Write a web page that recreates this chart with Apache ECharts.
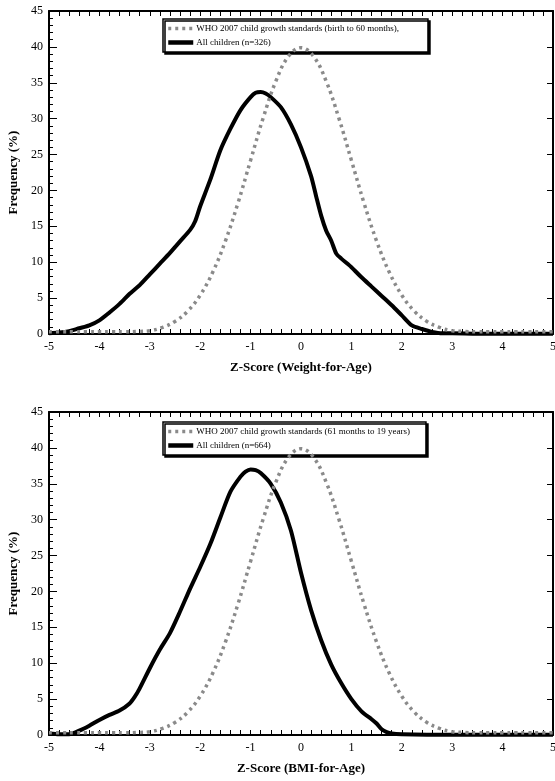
<!DOCTYPE html>
<html>
<head>
<meta charset="utf-8">
<script src="https://cdn.jsdelivr.net/npm/echarts@6/dist/echarts.min.js"></script>
<style>html,body{margin:0;padding:0;background:#fff}#c{width:555px;height:781px}</style>
</head>
<body>
<div id="c"></div>
<script>
// ---- data ----
const xTicks = [-5, -4, -3, -2, -1, 0, 1, 2, 3, 4, 5];
const yTicks = [0, 5, 10, 15, 20, 25, 30, 35, 40, 45];

const whoZ = [-5, -4.75, -4.5, -4.25, -4, -3.75, -3.5, -3.25, -3, -2.75, -2.5, -2.25, -2, -1.75, -1.5, -1.25, -1, -0.75, -0.5, -0.25, 0, 0.25, 0.5, 0.75, 1, 1.25, 1.5, 1.75, 2, 2.25, 2.5, 2.75, 3, 3.25, 3.5, 3.75, 4, 4.25, 4.5, 4.75, 5];
const whoFreq = [0.3, 0.3, 0.3, 0.3, 0.3, 0.3, 0.3, 0.35, 0.45, 0.91, 1.75, 3.17, 5.4, 8.63, 12.95, 18.26, 24.2, 30.11, 35.21, 38.67, 39.89, 38.67, 35.21, 30.11, 24.2, 18.26, 12.95, 8.63, 5.4, 3.17, 1.75, 0.91, 0.45, 0.35, 0.3, 0.3, 0.3, 0.3, 0.3, 0.3, 0.3];

const weightZ = [-5, -4.8, -4.6, -4.4, -4.2, -4, -3.8, -3.6, -3.4, -3.3, -3.2, -3, -2.8, -2.6, -2.4, -2.2, -2.1, -2, -1.8, -1.6, -1.4, -1.2, -1, -0.9, -0.8, -0.7, -0.6, -0.4, -0.2, 0, 0.2, 0.3, 0.4, 0.5, 0.6, 0.7, 0.8, 1, 1.2, 1.4, 1.6, 1.8, 2, 2.2, 2.4, 2.6, 2.8, 3, 3.5, 4, 4.5, 5];
const weightFreq = [0.1, 0.2, 0.4, 0.8, 1.2, 1.9, 3.0, 4.2, 5.6, 6.2, 6.8, 8.3, 9.8, 11.3, 12.9, 14.5, 15.7, 17.8, 21.5, 25.6, 28.6, 31.2, 33.0, 33.6, 33.7, 33.5, 33.0, 31.6, 29.2, 26.0, 22.0, 19.2, 16.5, 14.4, 13.0, 11.2, 10.5, 9.3, 7.9, 6.6, 5.3, 4.0, 2.6, 1.2, 0.7, 0.3, 0.1, 0.1, 0.05, 0.05, 0.05, 0.05];

const bmiZ = [-5, -4.8, -4.6, -4.4, -4.2, -4, -3.8, -3.6, -3.4, -3.3, -3.2, -3, -2.8, -2.6, -2.4, -2.2, -2, -1.8, -1.6, -1.4, -1.2, -1.1, -1, -0.9, -0.8, -0.6, -0.4, -0.2, 0, 0.2, 0.4, 0.6, 0.8, 1, 1.2, 1.4, 1.5, 1.6, 1.7, 1.8, 2, 2.5, 3, 3.5, 4, 4.5, 5];
const bmiFreq = [0.2, 0.1, 0.1, 0.6, 1.3, 2.1, 2.8, 3.4, 4.4, 5.3, 6.5, 9.3, 11.9, 14.2, 17.2, 20.4, 23.4, 26.6, 30.3, 33.9, 36.0, 36.7, 37.0, 36.9, 36.5, 35.0, 32.4, 28.5, 22.6, 17.4, 13.2, 9.8, 7.2, 5.0, 3.3, 2.2, 1.6, 0.8, 0.4, 0.2, 0.1, 0.05, 0.05, 0.05, 0.05, 0.05, 0.05];

const whoTopName = 'WHO 2007 child growth standards (birth to 60 months),';
const allTopName = 'All children (n=326)';
const whoBotName = 'WHO 2007 child growth standards (61 months to 19 years)';
const allBotName = 'All children (n=664)';
const xTitleTop = 'Z-Score (Weight-for-Age)';
const xTitleBot = 'Z-Score (BMI-for-Age)';
const yTitle = 'Frequency (%)';

// ---- chart ----
const serif = "'Liberation Serif', 'Times New Roman', serif";
const pairs = (xs, ys) => xs.map((x, i) => [x, ys[i]]);
const GRAY = '#8a8a8a';

function xAxes(gi, title) {
  const base = {
    gridIndex: gi, type: 'value', min: xTicks[0], max: xTicks[xTicks.length - 1], interval: 1,
    axisLine: { show: true, onZero: false, lineStyle: { color: '#000', width: 2 } },
    axisTick: { show: true, inside: true, length: 5, lineStyle: { color: '#000', width: 1 } },
    minorTick: { show: true, splitNumber: 5, length: 5, lineStyle: { color: '#000', width: 1 } },
    splitLine: { show: false }
  };
  return [
    Object.assign({}, base, {
      position: 'bottom',
      axisLabel: { color: '#000', fontFamily: serif, fontSize: 12, margin: 7, formatter: v => String(v) },
      name: title, nameLocation: 'middle', nameGap: 27,
      nameTextStyle: { color: '#000', fontFamily: serif, fontSize: 13, fontWeight: 'bold' }
    }),
    Object.assign({}, base, { position: 'top', axisLabel: { show: false } })
  ];
}
function yAxes(gi) {
  const base = {
    gridIndex: gi, type: 'value', min: yTicks[0], max: yTicks[yTicks.length - 1], interval: 5,
    axisLine: { show: true, onZero: false, lineStyle: { color: '#000', width: 2 } },
    splitLine: { show: false }
  };
  return [
    Object.assign({}, base, {
      position: 'left',
      axisTick: { show: true, inside: true, length: 8, lineStyle: { color: '#000', width: 1 } },
      minorTick: { show: true, splitNumber: 5, length: 4, lineStyle: { color: '#000', width: 1 } },
      axisLabel: { color: '#000', fontFamily: serif, fontSize: 12, margin: 6 },
      name: yTitle, nameLocation: 'middle', nameGap: 28, nameRotate: 90,
      nameTextStyle: { color: '#000', fontFamily: serif, fontSize: 13, fontWeight: 'bold' }
    }),
    Object.assign({}, base, {
      position: 'right',
      axisTick: { show: true, inside: true, length: 6, lineStyle: { color: '#000', width: 1 } },
      axisLabel: { show: false }
    })
  ];
}
function legend(top, whoName, allName, padRight) {
  return {
    left: 163, top: top, orient: 'vertical',
    data: [
      { name: whoName, lineStyle: { color: GRAY, width: 3.5, type: [3, 4], cap: 'butt' } },
      { name: allName, lineStyle: { color: '#000', width: 4.5, type: 'solid' } }
    ],
    itemWidth: 25, itemHeight: 8, itemGap: 5,
    itemStyle: { color: 'rgba(0,0,0,0)', borderWidth: 0, opacity: 0 },
    padding: [5, padRight, 5, 3],
    backgroundColor: '#fff', borderColor: '#000', borderWidth: 1.5,
    shadowColor: '#000', shadowBlur: 0, shadowOffsetX: 2, shadowOffsetY: 2,
    textStyle: { color: '#000', fontFamily: serif, fontSize: 9, padding: [0, 0, 0, -2] },
    selectedMode: false
  };
}
const blackStyle = { color: '#000', width: 4 };
const whoStyle = { color: GRAY, width: 3.5, type: [3, 4], cap: 'butt' };

const chart = echarts.init(document.getElementById('c'), null, { renderer: 'canvas' });
chart.setOption({
  animation: false,
  backgroundColor: '#fff',
  grid: [
    { left: 49, top: 11, width: 504, height: 323, outerBoundsMode: 'none', containLabel: false },
    { left: 49, top: 412, width: 504, height: 323, outerBoundsMode: 'none', containLabel: false }
  ],
  xAxis: [].concat(xAxes(0, xTitleTop), xAxes(1, xTitleBot)),
  yAxis: [].concat(yAxes(0), yAxes(1)),
  legend: [legend(19, whoTopName, allTopName, 29), legend(422, whoBotName, allBotName, 16)],
  series: [
    { name: allTopName, type: 'line', xAxisIndex: 0, yAxisIndex: 0, data: pairs(weightZ, weightFreq), symbol: 'none', smooth: 0.25, lineStyle: blackStyle, itemStyle: { color: '#000' }, z: 2 },
    { name: whoTopName, type: 'line', xAxisIndex: 0, yAxisIndex: 0, data: pairs(whoZ, whoFreq), symbol: 'none', smooth: 0.4, lineStyle: whoStyle, itemStyle: { color: GRAY }, z: 6 },
    { name: allBotName, type: 'line', xAxisIndex: 2, yAxisIndex: 2, data: pairs(bmiZ, bmiFreq), symbol: 'none', smooth: 0.25, lineStyle: blackStyle, itemStyle: { color: '#000' }, z: 2 },
    { name: whoBotName, type: 'line', xAxisIndex: 2, yAxisIndex: 2, data: pairs(whoZ, whoFreq), symbol: 'none', smooth: 0.4, lineStyle: whoStyle, itemStyle: { color: GRAY }, z: 6 }
  ]
});
</script>
</body>
</html>
